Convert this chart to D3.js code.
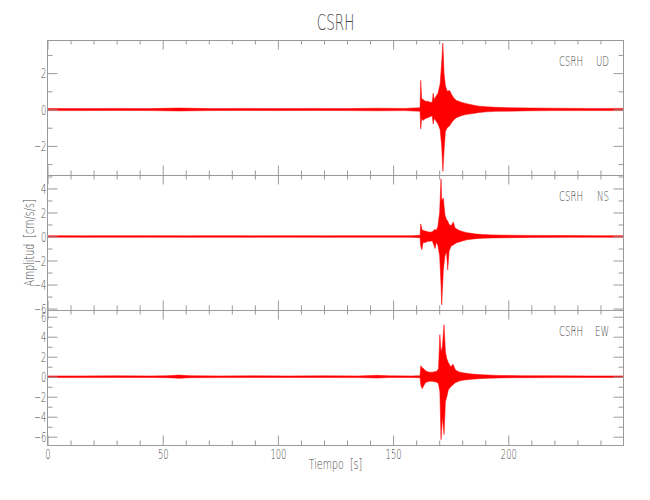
<!DOCTYPE html>
<html><head><meta charset="utf-8">
<script src="https://cdn.jsdelivr.net/npm/d3@7"></script>
<style>
body{margin:0;background:#fff}
svg text{font-family:"DejaVu Sans","Liberation Sans",sans-serif;font-weight:200;fill:#4a4a4a}
</style>
</head><body>
<svg id="chart" width="650" height="500"></svg>
<script>
// ---------- data ----------
const station = "CSRH";
const components = ["UD", "NS", "EW"];
const xLabel = "Tiempo  [s]";
const yLabel = "Amplitud  [cm/s/s]";
const xDomain = [0, 250];
const xMajorTicks = [0, 50, 100, 150, 200];
const xMinorTicks = [10,20,30,40,60,70,80,90,110,120,130,140,160,170,180,190,210,220,230,240];

const yDomainUD = [-3.6, 3.82];
const yDomainNS = [-6.12, 5.12];
const yDomainEW = [-6.83, 6.67];
const yMajorUD = [-2, 0, 2];
const yMinorUD = [-3, -1, 1, 3];
const yMajorNS = [-6, -4, -2, 0, 2, 4];
const yMinorNS = [-5, -3, -1, 1, 3, 5];
const yMajorEW = [-6, -4, -2, 0, 2, 4, 6];
const yMinorEW = [-5, -3, -1, 1, 3, 5];

// envelope of the trace (upper / lower)
const timeUD = [0,15,30,45,57,70,85,100,115,130,143,155,161.7,162.0,162.4,163,164,165,166,167,167.4,167.8,168.5,169.5,170.4,171.1,171.6,172.1,172.7,173.5,174.5,175.5,176.5,177.5,178.5,179.5,181.5,183.5,185.5,187.5,190.5,194.5,200,210,220,235,250];
const hiUD = [0.06,0.05,0.06,0.05,0.08,0.05,0.06,0.05,0.06,0.05,0.07,0.06,0.1,1.6,0.6,0.55,0.45,0.45,0.4,0.4,0.9,0.55,0.7,0.9,1.4,2.6,3.65,2.0,1.3,1.0,1.05,0.8,0.6,0.5,0.45,0.4,0.33,0.28,0.22,0.18,0.15,0.12,0.1,0.08,0.07,0.06,0.06];
const loUD = [-0.06,-0.06,-0.05,-0.06,-0.08,-0.06,-0.05,-0.06,-0.05,-0.06,-0.07,-0.06,-0.1,-1.07,-0.5,-0.6,-0.5,-0.45,-0.4,-0.35,-0.8,-0.5,-0.6,-0.8,-1.1,-2.0,-3.4,-2.3,-1.2,-1.0,-0.9,-0.7,-0.55,-0.45,-0.4,-0.35,-0.28,-0.24,-0.2,-0.16,-0.13,-0.1,-0.09,-0.07,-0.06,-0.06,-0.06];

const timeNS = [0,15,30,45,60,75,90,105,120,135,150,158,161.7,162.0,162.5,163,164,165,166,167,168.2,168.7,169.4,170.2,170.8,171.1,171.8,172.5,173.2,173.7,174.3,175.2,176.1,176.9,177.8,178.8,180,182,184,186,189,193,200,210,225,240,250];
const hiNS = [0.07,0.06,0.07,0.07,0.06,0.07,0.06,0.07,0.06,0.07,0.07,0.07,0.1,1.05,0.6,0.5,0.45,0.4,0.35,0.4,0.6,0.5,0.8,2.0,4.8,3.0,3.2,1.8,1.4,1.3,1.0,0.9,1.2,0.7,0.6,0.5,0.42,0.32,0.26,0.2,0.16,0.13,0.11,0.09,0.08,0.07,0.07];
const loNS = [-0.06,-0.07,-0.07,-0.06,-0.07,-0.07,-0.07,-0.06,-0.07,-0.07,-0.07,-0.07,-0.1,-0.8,-1.1,-0.5,-0.5,-0.4,-0.4,-0.35,-1.0,-0.5,-0.7,-1.6,-4.0,-5.7,-2.8,-1.6,-1.3,-2.8,-1.2,-0.8,-0.7,-0.6,-0.5,-0.45,-0.38,-0.28,-0.22,-0.18,-0.14,-0.12,-0.1,-0.08,-0.07,-0.07,-0.07];

const timeEW = [0,15,30,45,52,57,62,75,90,105,120,135,143,148,158,161.7,162.0,162.6,163.3,164,165,166,167,168,169,169.7,170.3,170.8,171.4,172.1,172.7,173.3,174,175,176,177,178,179,181,184,187,191,196,205,220,235,250];
const hiEW = [0.08,0.08,0.09,0.08,0.1,0.16,0.1,0.08,0.09,0.08,0.09,0.08,0.14,0.09,0.08,0.1,1.1,0.9,0.8,0.6,0.5,0.45,0.45,0.5,0.55,0.8,4.2,2.5,3.0,5.2,2.5,1.8,1.4,1.0,1.25,0.7,0.55,0.45,0.36,0.28,0.22,0.17,0.13,0.1,0.09,0.08,0.08];
const loEW = [-0.08,-0.09,-0.08,-0.08,-0.1,-0.16,-0.1,-0.09,-0.08,-0.08,-0.08,-0.09,-0.14,-0.08,-0.08,-0.1,-0.8,-1.2,-0.9,-0.6,-0.5,-0.45,-0.45,-0.5,-0.55,-0.7,-1.5,-6.3,-4.0,-5.8,-2.5,-2.0,-1.3,-1.0,-0.8,-0.6,-0.5,-0.4,-0.33,-0.26,-0.2,-0.16,-0.12,-0.1,-0.09,-0.08,-0.08];

// ---------- layout ----------
const svg = d3.select("#chart");
const left = 47.5, right = 623.5;
const panelTops = [40, 175, 310];
const panelH = 135;
const axisColor = "#9a9a9a";
const SX = 0.62; // narrow font

const x = d3.scaleLinear().domain(xDomain).range([left, right]);

const panels = [
  {comp: components[0], dom: yDomainUD, maj: yMajorUD, min: yMinorUD, t: timeUD, hi: hiUD, lo: loUD},
  {comp: components[1], dom: yDomainNS, maj: yMajorNS, min: yMinorNS, t: timeNS, hi: hiNS, lo: loNS},
  {comp: components[2], dom: yDomainEW, maj: yMajorEW, min: yMinorEW, t: timeEW, hi: hiEW, lo: loEW}
];

function styleAxis(g){
  g.select(".domain").remove();
  g.selectAll("line").attr("stroke", axisColor).attr("stroke-width", 1);
  g.selectAll("text").attr("fill", "#4a4a4a").attr("font-size", 13.5)
    .style("font-family", '"DejaVu Sans","Liberation Sans",sans-serif');
}

panels.forEach((p, i) => {
  const top = panelTops[i], bottom = top + panelH;
  const y = d3.scaleLinear().domain(p.dom).range([bottom, top]);

  // trace envelope
  const pts = p.t.map((t, k) => ({t, hi: p.hi[k], lo: p.lo[k]}));
  const area = d3.area().x(d => x(d.t)).y0(d => y(d.lo)).y1(d => y(d.hi));
  svg.append("path").datum(pts).attr("d", area)
    .attr("fill", "#ff0000")
    .attr("stroke", "#ff0000").attr("stroke-width", 0.5);

  // frame
  svg.append("rect").attr("x", left).attr("y", top + 0.5)
    .attr("width", right - left).attr("height", panelH)
    .attr("fill", "none").attr("stroke", axisColor).attr("stroke-width", 1);

  // left axis (major with labels)
  const gl = svg.append("g").attr("transform", `translate(${left},0)`)
    .call(d3.axisLeft(y).tickValues(p.maj).tickSizeInner(-10).tickSizeOuter(0).tickPadding(2).tickFormat(d3.format("d")));
  styleAxis(gl);
  gl.selectAll("text").attr("dy", "0.36em").attr("transform", `scale(${SX},1)`);
  svg.append("g").attr("transform", `translate(${left},0)`)
    .call(d3.axisLeft(y).tickValues(p.min).tickSizeInner(-5).tickSizeOuter(0).tickFormat(""))
    .call(styleAxis);

  // right axis
  svg.append("g").attr("transform", `translate(${right},0)`)
    .call(d3.axisRight(y).tickValues(p.maj).tickSizeInner(-10).tickSizeOuter(0).tickFormat(""))
    .call(styleAxis);
  svg.append("g").attr("transform", `translate(${right},0)`)
    .call(d3.axisRight(y).tickValues(p.min).tickSizeInner(-5).tickSizeOuter(0).tickFormat(""))
    .call(styleAxis);

  // top axis
  svg.append("g").attr("transform", `translate(0,${top + 0.5})`)
    .call(d3.axisTop(x).tickValues(xMajorTicks).tickSizeInner(-9).tickSizeOuter(0).tickFormat(""))
    .call(styleAxis);
  svg.append("g").attr("transform", `translate(0,${top + 0.5})`)
    .call(d3.axisTop(x).tickValues(xMinorTicks).tickSizeInner(-4).tickSizeOuter(0).tickFormat(""))
    .call(styleAxis);

  // bottom axis
  const gb = svg.append("g").attr("transform", `translate(0,${bottom + 0.5})`)
    .call(d3.axisBottom(x).tickValues(xMajorTicks).tickSizeInner(-10).tickSizeOuter(0).tickPadding(3.5)
      .tickFormat(i === 2 ? d3.format("d") : ""));
  styleAxis(gb);
  gb.selectAll("text").attr("transform", `scale(${SX},1)`);
  svg.append("g").attr("transform", `translate(0,${bottom + 0.5})`)
    .call(d3.axisBottom(x).tickValues(xMinorTicks).tickSizeInner(-5).tickSizeOuter(0).tickFormat(""))
    .call(styleAxis);

  // panel labels
  svg.append("text").attr("transform", `translate(583,${top + 26}) scale(${SX},1)`)
    .attr("text-anchor", "end").attr("font-size", 14).text(station);
  svg.append("text").attr("transform", `translate(609,${top + 26}) scale(${SX},1)`)
    .attr("text-anchor", "end").attr("font-size", 14).text(p.comp);
});

// Title
svg.append("text").attr("transform", `translate(${(left + right) / 2},30) scale(0.66,1)`)
  .attr("text-anchor", "middle").attr("font-size", 20.5).text(station);

// x label
svg.append("text").attr("transform", `translate(${(left + right) / 2},469) scale(0.68,1)`)
  .attr("text-anchor", "middle").attr("font-size", 14)
  .attr("xml:space", "preserve").text(xLabel);

// y label
svg.append("text").attr("transform", `translate(34,243) rotate(-90) scale(0.68,1)`)
  .attr("text-anchor", "middle").attr("font-size", 14)
  .attr("xml:space", "preserve").text(yLabel);
</script>
</body></html>
